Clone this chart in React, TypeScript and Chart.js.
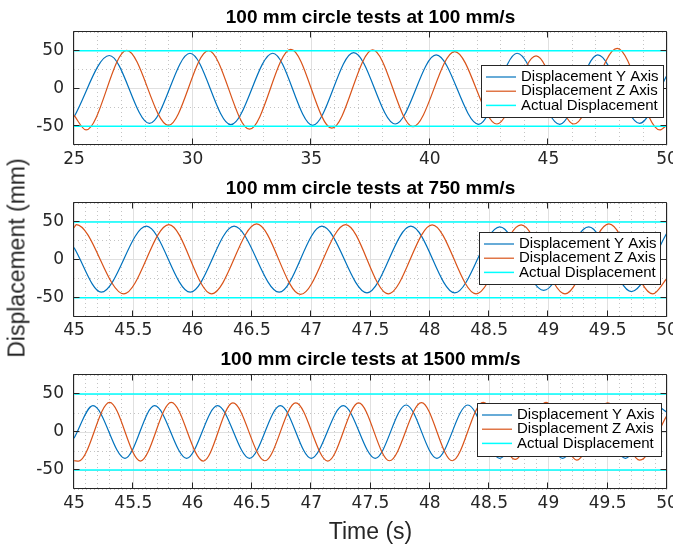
import React, { useEffect, useRef } from 'react';
import { Chart, registerables } from 'chart.js';

Chart.register(...registerables);

// ---------------- data ----------------
const seriesLabels = ['Displacement Y Axis', 'Displacement Z Axis', 'Actual Displacement'];
const actualLevels = [50, -50];
const yTickLabels = ['-50', '0', '50'];

const title100 = '100 mm circle tests at 100 mm/s';
const title750 = '100 mm circle tests at 750 mm/s';
const title1500 = '100 mm circle tests at 1500 mm/s';

const xTickLabels100 = ['25', '30', '35', '40', '45', '50'];
const xTickLabelsFast = ['45', '45.5', '46', '46.5', '47', '47.5', '48', '48.5', '49', '49.5', '50'];

// 100 mm/s
const timeY100 = [25, 26.49, 28.18, 29.89, 31.61, 33.38, 35.06, 36.79, 38.54, 40.27, 42.06, 43.68, 45.48, 47.08, 48.85, 50];
const dispY100 = [-37.7, 43.8, -46.3, 46.8, -48.0, 46.8, -48.9, 47.7, -47.1, 44.6, -47.5, 46.8, -47.5, 44.6, -46.3, 18];
const timeZ100 = [25, 25.51, 27.22, 28.98, 30.67, 32.4, 34.14, 35.87, 37.59, 39.29, 41.05, 42.83, 44.48, 46.07, 47.9, 49.7, 50];
const dispZ100 = [-35.5, -55.0, 50.6, -48.9, 50.3, -54.0, 52.0, -52.7, 51.2, -50.6, 49.0, -47.1, 43.4, -47.1, 53.3, -55.0, -48.4];

// 750 mm/s
const timeY750 = [45, 45.23, 45.61, 45.98, 46.35, 46.73, 47.09, 47.47, 47.84, 48.21, 48.59, 48.96, 49.34, 49.7, 50];
const dispY750 = [16.2, -42.6, 44.4, -42.6, 44.4, -42.6, 44.4, -43.5, 44.4, -43.5, 43.6, -40.4, 43.6, -41.8, 35.8];
const timeZ750 = [45, 45.02, 45.42, 45.8, 46.16, 46.54, 46.91, 47.29, 47.65, 48.02, 48.39, 48.77, 49.14, 49.51, 49.88, 50];
const dispZ750 = [42.3, 46.6, -44.8, 46.6, -44.8, 47.5, -45.6, 46.6, -44.8, 46.2, -44.8, 46.2, -44.8, 47.5, -44.8, -24.3];

// 1500 mm/s
const timeY1500 = [45, 45.16, 45.43, 45.68, 45.95, 46.21, 46.48, 46.74, 47.0, 47.27, 47.54, 47.8, 48.06, 48.32, 48.59, 48.85, 49.12, 49.38, 49.65, 49.9, 50];
const dispY1500 = [-8.3, 34.6, -34.6, 34.6, -34.6, 34.6, -34.6, 34.6, -34.6, 34.6, -34.6, 35.5, -34.6, 35.5, -34.6, 35.0, -34.6, 35.0, -34.6, 35.0, 26];
const timeZ1500 = [45, 45.04, 45.3, 45.56, 45.82, 46.09, 46.34, 46.61, 46.87, 47.14, 47.4, 47.66, 47.93, 48.19, 48.45, 48.72, 48.98, 49.24, 49.5, 49.77, 50];
const dispZ1500 = [-37.8, -38.2, 39.0, -38.2, 39.0, -38.2, 38.2, -37.8, 38.2, -38.2, 38.2, -37.8, 38.6, -37.8, 39.0, -36.0, 39.0, -37.0, 38.2, -37.0, 22];

// ---------------- styles ----------------
const colors = ['#0072BD', '#D95319', '#00FFFF'];
const axisColor = '#262626';
const tickFont = { family: '"DejaVu Sans", sans-serif', size: 17 };
const titleSize = 19;
const titleLH = titleSize * 1.2;

type Panel = {
  title: string;
  tY: number[]; vY: number[]; tZ: number[]; vZ: number[];
  xMin: number; xMax: number; minorStep: number; xLabels: string[];
  pageTop: number; H: number; chartTop: number; chartBottom: number; titleCenter: number;
  legend: { x: number; y: number; w: number; h: number };
  xTitle?: string;
};

const panels: Panel[] = [
  {
    title: title100, tY: timeY100, vY: dispY100, tZ: timeZ100, vZ: dispZ100,
    xMin: 25, xMax: 50, minorStep: 1, xLabels: xTickLabels100,
    pageTop: 0, H: 170, chartTop: 32, chartBottom: 145, titleCenter: 18,
    legend: { x: 481, y: 65, w: 182, h: 52 },
  },
  {
    title: title750, tY: timeY750, vY: dispY750, tZ: timeZ750, vZ: dispZ750,
    xMin: 45, xMax: 50, minorStep: 0.1, xLabels: xTickLabelsFast,
    pageTop: 170, H: 170, chartTop: 33, chartBottom: 146.7, titleCenter: 18.5,
    legend: { x: 479, y: 62, w: 181, h: 52 },
  },
  {
    title: title1500, tY: timeY1500, vY: dispY1500, tZ: timeZ1500, vZ: dispZ1500,
    xMin: 45, xMax: 50, minorStep: 0.1, xLabels: xTickLabelsFast,
    pageTop: 340, H: 210, chartTop: 35, chartBottom: 149, titleCenter: 20,
    legend: { x: 477, y: 63, w: 184, h: 53 },
    xTitle: 'Time (s)',
  },
];

const fmt = (v: number) => String(Math.round(v * 10) / 10);

function makeConfig(p: Panel): any {
  const isMajorX = (v: number) => p.xLabels.includes(fmt(v));
  const isMajorY = (v: number) => yTickLabels.includes(fmt(v));
  const crisp = (v: number) => Math.round(v) + 0.5;

  const frame = {
    id: 'frameTicks',
    afterDatasetsDraw(chart: any) {
      const { ctx, chartArea: a, scales } = chart;
      const L = crisp(a.left) - 1, R = crisp(a.right) - 1, T = crisp(a.top) - 1, B = crisp(a.bottom) - 1;
      ctx.save();
      ctx.strokeStyle = axisColor;
      ctx.lineWidth = 1;
      ctx.beginPath();
      ctx.rect(L, T, R - L, B - T);
      const tl = 6;
      scales.x.ticks.forEach((t: any) => {
        if (!isMajorX(t.value)) return;
        const px = crisp(scales.x.getPixelForValue(t.value)) - 1;
        ctx.moveTo(px, B); ctx.lineTo(px, B - tl);
        ctx.moveTo(px, T); ctx.lineTo(px, T + tl);
      });
      scales.y.ticks.forEach((t: any) => {
        if (!isMajorY(t.value)) return;
        const py = crisp(scales.y.getPixelForValue(t.value)) - 1;
        ctx.moveTo(L, py); ctx.lineTo(L + tl, py);
        ctx.moveTo(R, py); ctx.lineTo(R - tl, py);
      });
      ctx.stroke();
      ctx.restore();
    },
  };

  const legend = {
    id: 'boxLegend',
    afterDraw(chart: any) {
      const { ctx } = chart;
      const g = p.legend;
      ctx.save();
      ctx.fillStyle = '#ffffff';
      ctx.fillRect(g.x, g.y, g.w, g.h);
      ctx.strokeStyle = axisColor;
      ctx.lineWidth = 1;
      ctx.strokeRect(g.x + 0.5, g.y + 0.5, g.w, g.h);
      ctx.font = '15px "Liberation Sans", Arial, sans-serif';
      ctx.textBaseline = 'middle';
      ctx.textAlign = 'left';
      seriesLabels.forEach((lab, i) => {
        const cy = g.y + 12 + i * 14.2;
        ctx.strokeStyle = colors[i];
        ctx.lineWidth = i === 2 ? 1.5 : 1.2;
        ctx.beginPath();
        ctx.moveTo(g.x + 5, cy);
        ctx.lineTo(g.x + 35, cy);
        ctx.stroke();
        ctx.fillStyle = '#000000';
        ctx.fillText(lab, g.x + 40, cy);
      });
      ctx.restore();
    },
  };

  const lineDs = (label: string, t: number[], v: number[], color: string, order: number) => ({
    label,
    data: t.map((x, i) => ({ x, y: v[i] })),
    borderColor: color,
    backgroundColor: color,
    borderWidth: 1.2,
    pointRadius: 0,
    pointHoverRadius: 0,
    cubicInterpolationMode: 'monotone',
    fill: false,
    order,
  });

  const actualDs = actualLevels.map((lvl) => ({
    label: seriesLabels[2],
    data: [{ x: p.xMin, y: lvl }, { x: p.xMax, y: lvl }],
    borderColor: colors[2],
    backgroundColor: colors[2],
    borderWidth: 1.5,
    pointRadius: 0,
    pointHoverRadius: 0,
    fill: false,
    order: 0,
  }));

  const titlePadTop = p.titleCenter - titleLH / 2;
  const titlePadBottom = p.chartTop - titlePadTop - titleLH;
  const xAxisHeight = p.H - p.chartBottom;

  return {
    type: 'line',
    data: {
      datasets: [
        lineDs(seriesLabels[0], p.tY, p.vY, colors[0], 2),
        lineDs(seriesLabels[1], p.tZ, p.vZ, colors[1], 1),
        ...actualDs,
      ],
    },
    options: {
      animation: false,
      responsive: false,
      events: [],
      layout: { padding: { left: 0, right: 6, top: 0, bottom: 0 } },
      plugins: {
        legend: { display: false },
        tooltip: { enabled: false },
        title: {
          display: true,
          fullSize: false,
          text: p.title,
          color: '#000000',
          font: { family: '"Liberation Sans", Arial, sans-serif', size: titleSize, weight: 'bold', lineHeight: 1.2 },
          padding: { top: titlePadTop, bottom: titlePadBottom },
        },
      },
      scales: {
        x: {
          type: 'linear',
          min: p.xMin,
          max: p.xMax,
          afterFit(scale: any) {
            scale.height = xAxisHeight;
            scale.paddingLeft = 0;
            scale.paddingRight = 0;
          },
          ticks: {
            stepSize: p.minorStep,
            autoSkip: false,
            maxRotation: 0,
            minRotation: 0,
            padding: 4,
            color: axisColor,
            font: tickFont,
            callback: (v: any) => (isMajorX(Number(v)) ? fmt(Number(v)) : ''),
          },
          grid: {
            drawTicks: false,
            lineWidth: 1,
            color: (c: any) => (c.tick && isMajorX(c.tick.value) ? '#e0e0e0' : '#c4c4c4'),
          },
          border: {
            display: false,
            dash: (c: any) => (c.tick && isMajorX(c.tick.value) ? [] : [1, 3]),
          },
          title: p.xTitle
            ? {
                display: true,
                text: p.xTitle,
                color: axisColor,
                font: { family: '"Liberation Sans", Arial, sans-serif', size: 23, lineHeight: 1.2 },
                padding: { top: 0, bottom: 4 },
              }
            : { display: false },
        },
        y: {
          type: 'linear',
          min: -75,
          max: 75,
          afterFit(scale: any) {
            scale.width = 74;
            scale.paddingTop = 0;
            scale.paddingBottom = 0;
          },
          ticks: {
            stepSize: 25,
            autoSkip: false,
            padding: 10,
            color: axisColor,
            font: tickFont,
            callback: (v: any) => (isMajorY(Number(v)) ? fmt(Number(v)) : ''),
          },
          grid: {
            drawTicks: false,
            lineWidth: 1,
            color: (c: any) => (c.tick && isMajorY(c.tick.value) ? '#e0e0e0' : '#c4c4c4'),
          },
          border: {
            display: false,
            dash: (c: any) => (c.tick && isMajorY(c.tick.value) ? [] : [1, 3]),
          },
        },
      },
    },
    plugins: [frame, legend],
  };
}

function PanelChart({ panel }: { panel: Panel }) {
  const ref = useRef<HTMLCanvasElement | null>(null);
  useEffect(() => {
    if (!ref.current) return;
    const chart = new Chart(ref.current, makeConfig(panel));
    return () => chart.destroy();
  }, [panel]);
  return (
    <canvas
      ref={ref}
      width={673}
      height={panel.H}
      style={{ position: 'absolute', left: 0, top: panel.pageTop, width: 673, height: panel.H, display: 'block' }}
    />
  );
}

export default function App() {
  return (
    <div
      style={{
        position: 'absolute',
        left: 0,
        top: 0,
        width: 673,
        height: 550,
        background: '#ffffff',
        overflow: 'hidden',
      }}
    >
      {panels.map((p, i) => (
        <PanelChart key={i} panel={p} />
      ))}
      <div
        style={{
          position: 'absolute',
          left: 17,
          top: 258,
          transform: 'translate(-50%, -50%) rotate(-90deg)',
          fontFamily: '"Liberation Sans", Arial, sans-serif',
          fontSize: 23,
          lineHeight: 1,
          color: axisColor,
          whiteSpace: 'nowrap',
        }}
      >
        Displacement (mm)
      </div>
    </div>
  );
}
